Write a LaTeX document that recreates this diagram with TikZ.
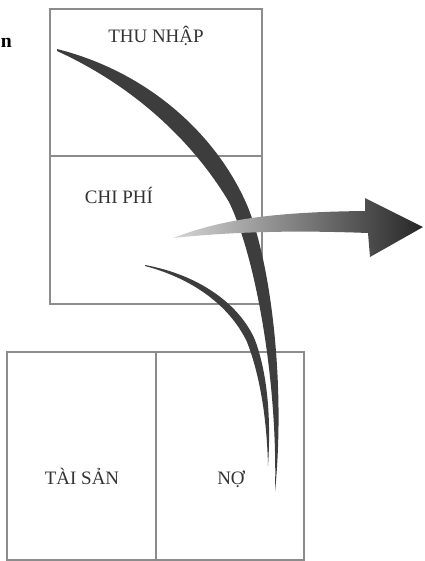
\documentclass[tikz,border=0pt]{standalone}
\usepackage{fontspec}
\setmainfont{Liberation Serif}
\usetikzlibrary{calc, positioning}

\begin{document}
\begin{tikzpicture}[x=0.025cm, y=-0.025cm,
	txt/.style={font=\fontsize{13.5}{16}\selectfont, text=black!80, inner sep=0pt, anchor=base},
	frame/.style={draw=black!45, line width=0.9pt},
	stroke/.style={fill=black!76, draw=none}]
	\useasboundingbox (0,0) rectangle (425,561);
	\coordinate (ttl) at (50,9);
	\coordinate (tmr) at (262,156);
	\coordinate (tml) at (50,156);
	\coordinate (tbr) at (262,304);
	\coordinate (btl) at (7,352);
	\coordinate (btm) at (156,352);
	\coordinate (bbm) at (156,560);
	\coordinate (bbr) at (304,560);
	\draw[frame] (ttl) rectangle (tbr);
	\draw[frame] (tml) -- (tmr);
	\draw[frame] (btl) rectangle (bbr);
	\draw[frame] (btm) -- (bbm);
	\node[txt, anchor=base west, font=\fontsize{14}{16}\selectfont\bfseries, text=black] (cut) at (0.5,47) {n};
	\node[txt] (thunhap) at (156,42) {THU NHẬP};
	\node[txt] (chiphi) at (119,203) {CHI PHÍ};
	\node[txt] (taisan) at (82,484) {TÀI SẢN};
	\node[txt] (no) at (231,484) {NỢ};
	\fill[stroke] (145,265) .. controls (200,275) and (240,305) .. (255,340) .. controls (268,375) and (271,420) .. (268,466)
		.. controls (267,420) and (260,375) .. (247,342) .. controls (232,310) and (198,280) .. (145,266) -- cycle;
	\fill[stroke] (57,49) .. controls (152,73) and (218,138) .. (247,205) .. controls (270,260) and (286,380) .. (275,492)
		.. controls (278,380) and (255,255) .. (229,202) .. controls (195,145) and (138,88) .. (57,51) -- cycle;
	\shade[left color=black!16, right color=black!85] (173,238) .. controls (220,220) and (270,212) .. (365,211)
		-- (365,198) -- (423,227) -- (370,257) -- (368,233) .. controls (290,230) and (230,232) .. (173,238) -- cycle;
\end{tikzpicture}
\end{document}
